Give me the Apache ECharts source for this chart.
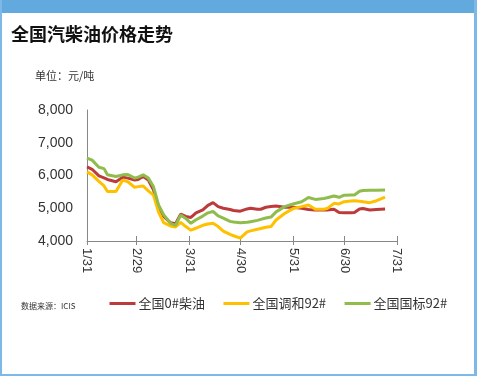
<!DOCTYPE html>
<html>
<head>
<meta charset="utf-8">
<script src="https://cdn.jsdelivr.net/npm/echarts@6/dist/echarts.min.js"></script>
<style>
  html, body { margin: 0; padding: 0; background: #fff; }
  #wrap { position: relative; width: 477px; height: 376px; overflow: hidden; }
  #chart { position: absolute; left: 0; top: 0; width: 477px; height: 376px; }
  .band { position: absolute; left: 0; top: 0; width: 477px; height: 13px; background: #62a9dd; }
  .bl { position: absolute; left: 0; top: 0; width: 2px; height: 376px; background: #7cb9e8; }
  .br { position: absolute; right: 0; top: 0; width: 3px; height: 376px; background: #7cb9e8; }
  .bb { position: absolute; left: 0; bottom: 0; width: 477px; height: 2px; background: #7cb9e8; }
</style>
</head>
<body>
<div id="wrap">
  <div id="chart"></div>
  <div class="band"></div>
  <div class="bl"></div>
  <div class="br"></div>
  <div class="bb"></div>
</div>
<script>
// 日期（2020年）
var dates = [
  '2020-01-31','2020-02-03','2020-02-07','2020-02-10','2020-02-12','2020-02-17','2020-02-21','2020-02-24',
  '2020-02-28','2020-03-01','2020-03-04','2020-03-07','2020-03-10','2020-03-13','2020-03-16','2020-03-20',
  '2020-03-23','2020-03-26','2020-03-29','2020-04-01','2020-04-04','2020-04-08','2020-04-11','2020-04-14',
  '2020-04-17','2020-04-20','2020-04-24','2020-04-26','2020-04-30','2020-05-04','2020-05-06','2020-05-10',
  '2020-05-12','2020-05-15','2020-05-18','2020-05-21','2020-05-26','2020-05-31','2020-06-05','2020-06-09',
  '2020-06-13','2020-06-18','2020-06-20','2020-06-24','2020-06-27','2020-06-30','2020-07-04','2020-07-06',
  '2020-07-09','2020-07-11','2020-07-15','2020-07-19','2020-07-24'
];
// 全国0#柴油
var diesel = [
  6260,6190,5990,5930,5880,5810,5950,5920,5860,5880,5970,5860,5560,5050,4750,4560,
  4530,4820,4750,4720,4860,4950,5090,5170,5050,5000,4960,4930,4910,4980,5000,4970,
  4970,5030,5050,5070,5030,5030,5000,4960,4945,4945,4950,4970,4870,4865,4865,4870,
  4980,4990,4945,4960,4975
];
// 全国调和92#
var blend92 = [
  6110,6020,5820,5680,5510,5510,5860,5810,5640,5660,5680,5530,5400,4880,4560,4460,
  4430,4570,4440,4330,4390,4480,4520,4540,4440,4300,4200,4160,4090,4280,4310,4360,
  4380,4420,4440,4640,4840,4990,5050,5100,4970,4970,4990,5150,5130,5200,5220,5230,
  5215,5200,5170,5230,5340
];
// 全国国标92#
var std92 = [
  6530,6470,6250,6210,6020,5970,6020,6030,5920,5950,6020,5920,5660,5100,4800,4540,
  4480,4790,4690,4540,4650,4760,4860,4900,4770,4700,4600,4580,4560,4570,4590,4630,
  4660,4700,4730,4890,5050,5130,5200,5330,5270,5300,5320,5375,5335,5400,5405,5405,
  5520,5540,5550,5550,5560
];
var tickDates = ['2020-01-31','2020-02-29','2020-03-31','2020-04-30','2020-05-31','2020-06-30','2020-07-31'];
var names = ['全国0#柴油', '全国调和92#', '全国国标92#'];
var colors = ['#bc3a3a', '#ffc000', '#8fbc4a'];

var parse = echarts.time.parse;
var ticks = tickDates.map(function (d) { return +parse(d); });
var xMin = ticks[0], xMax = ticks[ticks.length - 1];

function pairs(vals) {
  return dates.map(function (d, i) { return [+parse(d), vals[i]]; });
}
function md(v) {
  var d = new Date(v);
  return (d.getMonth() + 1) + '/' + d.getDate();
}

var chart = echarts.init(document.getElementById('chart'));
var option = {
  animation: false,
  textStyle: { fontFamily: 'Liberation Sans, Noto Sans CJK SC, sans-serif' },
  title: [
    {
      text: '全国汽柴油价格走势',
      left: 6, top: 20,
      textStyle: { fontSize: 18, fontWeight: 'bold', color: '#111', fontFamily: 'Noto Sans CJK SC' }
    },
    {
      text: '单位：元/吨',
      left: 30, top: 65,
      textStyle: { fontSize: 11, fontWeight: 'normal', color: '#333', fontFamily: 'Noto Sans CJK SC' }
    },
    {
      text: '数据来源：ICIS',
      left: 16, top: 297,
      textStyle: { fontSize: 8, fontWeight: 'normal', color: '#333', fontFamily: 'Noto Sans CJK SC' }
    }
  ],
  legend: {
    left: 108, top: 297, padding: 0,
    itemWidth: 26, itemHeight: 3, itemGap: 17,
    data: names,
    lineStyle: { width: 3 },
    itemStyle: { opacity: 0 },
    textStyle: { fontSize: 13, color: '#333', fontFamily: 'Noto Sans CJK SC', padding: [0, 0, 0, -2] }
  },
  grid: { left: 87, right: 80, top: 110, bottom: 135 },
  xAxis: [
    {
      type: 'value', min: xMin, max: xMax,
      axisLine: { lineStyle: { color: '#888' } },
      axisTick: { show: true, length: 4, customValues: ticks, lineStyle: { color: '#888' } },
      axisLabel: { customValues: ticks, rotate: -90, fontSize: 13, color: '#333', margin: 7, formatter: md },
      splitLine: { show: false }
    },
    {
      type: 'value', min: xMin, max: xMax, position: 'bottom',
      axisLine: { show: false },
      axisTick: { show: true, inside: true, length: 5, customValues: ticks, lineStyle: { color: '#888' } },
      axisLabel: { show: false },
      splitLine: { show: false }
    }
  ],
  yAxis: {
    type: 'value', min: 4000, max: 8000, interval: 1000,
    axisLine: { show: true, lineStyle: { color: '#888' } },
    axisTick: { show: false },
    splitLine: { show: false },
    axisLabel: {
      fontSize: 14, color: '#333', margin: 14,
      formatter: function (v) { return v.toLocaleString('en-US'); }
    }
  },
  series: [diesel, blend92, std92].map(function (vals, i) {
    return {
      name: names[i], type: 'line', showSymbol: false, symbol: 'rect',
      data: pairs(vals),
      lineStyle: { width: 3, color: colors[i] },
      itemStyle: { color: colors[i] }
    };
  })
};
chart.setOption(option);
</script>
</body>
</html>
